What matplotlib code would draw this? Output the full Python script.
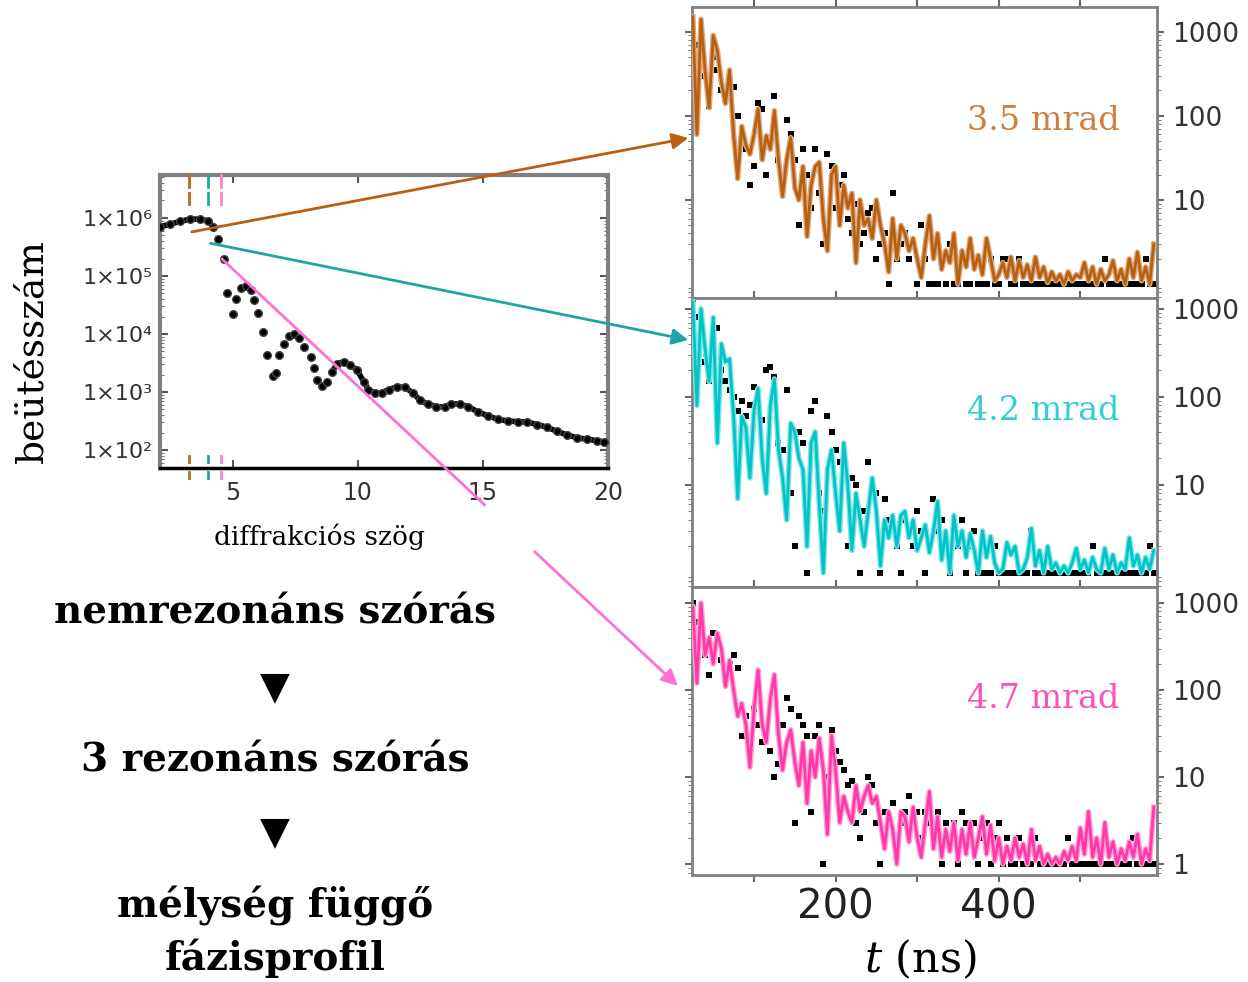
import numpy as np
import matplotlib.pyplot as plt
from matplotlib.patches import ConnectionPatch, FancyArrowPatch
from matplotlib.lines import Line2D
from matplotlib.ticker import LogLocator, NullFormatter

plt.rcParams['mathtext.fontset'] = 'dejavuserif'

# --- diffraction curve (left panel) ---
angle = [2.10, 2.50, 2.89, 3.29, 3.69, 4.02, 4.22, 4.42, 4.64, 4.77,
         5.01, 5.14, 5.34, 5.54, 5.74, 5.87, 6.00, 6.20, 6.36, 6.60,
         6.73, 6.86, 7.06, 7.26, 7.46, 7.66, 7.85, 8.12, 8.25, 8.38,
         8.58, 8.78, 8.98, 9.18, 9.44, 9.71, 9.97, 10.24, 10.43, 10.70,
         10.96, 11.23, 11.56, 11.89, 12.22, 12.48, 12.81, 13.14, 13.48, 13.74,
         14.07, 14.40, 14.80, 15.20, 15.59, 15.99, 16.39, 16.78, 17.18, 17.58,
         17.97, 18.37, 18.77, 19.16, 19.56, 19.83]
log_counts = [5.85, 5.89, 5.94, 5.98, 5.98, 5.95, 5.85, 5.64, 5.29, 4.70,
              4.34, 4.60, 4.79, 4.82, 4.76, 4.59, 4.36, 4.04, 3.64, 3.28,
              3.32, 3.63, 3.82, 3.97, 4.00, 3.93, 3.78, 3.61, 3.41, 3.21,
              3.11, 3.18, 3.35, 3.49, 3.52, 3.46, 3.38, 3.18, 3.04, 2.98,
              2.99, 3.04, 3.09, 3.08, 2.98, 2.86, 2.79, 2.75, 2.74, 2.80,
              2.79, 2.75, 2.66, 2.59, 2.53, 2.50, 2.49, 2.48, 2.44, 2.39,
              2.32, 2.26, 2.21, 2.19, 2.16, 2.14]
left_ytick_labels = ['1×10²', '1×10³', '1×10⁴', '1×10⁵', '1×10⁶']

# selected angles (marks) and where the arrows start
mark_angles = [3.25, 4.00, 4.55]
arrow_angle = [3.37, 4.12, 4.59]
arrow_count = [5.75e5, 3.66e5, 1.94e5]

# --- time spectra (right panels), channels every 5 ns from 25 to 590 ---
t_ns = np.arange(25, 595, 5)

fit_35 = [1500, 60, 1400, 340, 125, 900, 600, 250, 140, 350,
          60, 18, 75, 45, 35, 60, 120, 30, 58, 40,
          115, 30, 11, 30, 55, 14, 10, 25, 3.7, 15,
          25, 28, 6, 2.5, 20, 25, 5, 15, 8, 12,
          1.8, 10, 5, 6, 3.5, 10, 5, 3, 1.4, 6,
          2, 5, 4, 2.5, 3.5, 2, 1.2, 3, 6.5, 2,
          4, 1.5, 2.5, 1.8, 4, 1, 2.5, 1.6, 3.5, 1.5,
          2.2, 1.3, 3.5, 2, 1.1, 1.3, 1.8, 1.2, 2.1, 1.1,
          1.9, 1.2, 1.7, 1.1, 2.1, 1.2, 1.6, 1.05, 1.4, 1.1,
          1.3, 1.0, 1.4, 1.1, 1.3, 1.2, 1.8, 1.1, 1.6, 1.0,
          1.5, 1.1, 1.3, 1.9, 1.1, 1.5, 1.0, 2.0, 1.2, 2.4,
          1.1, 1.6, 1.0, 3.0]
meas_35 = [900, 700, 600, 300, 130, 500, 350, 200, 160, 250,
           220, 100, 60, 40, 15, 25, 140, 120, 20, 50,
           170, 30, 14, 90, 60, 30, 5, 40, 20, 8,
           40, 12, 3, 35, 25, 8, 15, 20, 6, 4,
           9, 3, 4, 7, 8, 2, 3, 4, 1, 12,
           2, 3, 4, 2, 3, 1, 5, 2, 1, 1,
           1, 2, 1, 3, 1, 1, 2, 1, 1, 2,
           1, 1, 1, 2, 1, 1, 2, 2, 1, 1,
           2, 1, 1, 1, 1, 1, 1, 1, 1, 1,
           1, 1, 1, 1, 1, 1, 1, 1, 1, 1,
           1, 2, 1, 1, 1, 1, 1, 1, 1, 1,
           1, 2, 1, 1]

fit_42 = [1200, 80, 1000, 350, 150, 800, 30, 400, 250, 270,
          60, 7, 60, 45, 12, 70, 125, 20, 8, 80,
          160, 25, 12, 4, 50, 40, 20, 15, 2, 30,
          40, 6, 1, 15, 25, 8, 3, 30, 10, 1.8,
          8, 4, 2, 5, 12, 5, 1.2, 4, 2.5, 4.5,
          2, 4.5, 5, 2.5, 4, 1.8, 2.5, 3.5, 1.7, 3,
          6.5, 1.4, 3, 1, 4.5, 2, 3, 1.5, 2.8, 1.8,
          1, 3, 1.5, 2.6, 1.3, 1.0, 1.1, 2.2, 1.6, 2.0,
          1.0, 1.1, 1.5, 3.2, 1.2, 1.8, 1.0, 2.0, 1.1, 1.3,
          1.0, 1.2, 1.0, 1.3, 1.9, 1.1, 1.4, 1.0, 1.5, 1.1,
          1.0, 1.9, 1.1, 1.6, 1.0, 1.3, 1.1, 2.5, 1.2, 1.6,
          1.0, 1.5, 1.1, 1.8]
meas_42 = [1300, 800, 500, 250, 150, 500, 600, 200, 150, 120,
           100, 70, 90, 60, 80, 130, 70, 55, 200, 220,
           170, 30, 25, 120, 8, 2, 40, 30, 1, 70,
           90, 8, 5, 60, 40, 25, 18, 20, 2, 12,
           10, 1, 5, 18, 10, 8, 1, 7, 4, 3,
           2, 1, 4, 3, 2, 5, 3, 1, 2, 7,
           3, 4, 2, 1, 3, 2, 4, 1, 2, 3,
           1, 1, 1, 1, 2, 1, 1, 1, 1, 1,
           1, 1, 1, 3, 1, 1, 1, 1, 1, 1,
           1, 1, 1, 1, 1, 1, 1, 1, 2, 1,
           1, 1, 1, 1, 1, 1, 1, 1, 1, 1,
           1, 1, 2, 1]

fit_47 = [900, 120, 1000, 250, 400, 200, 450, 300, 110, 220,
          100, 50, 70, 40, 13, 60, 170, 40, 25, 80,
          150, 30, 12, 25, 35, 15, 8, 25, 5, 20,
          10, 28, 12, 2.2, 30, 12, 3, 6, 4, 3,
          8, 4, 6, 8, 5, 6, 3, 1.5, 4, 2.5,
          1.0, 4, 3.5, 1.8, 4.5, 2, 1.2, 3, 6.8, 1.5,
          3.5, 1.2, 2.5, 1.4, 3, 1.1, 2.5, 1.3, 3.0, 1.2,
          2, 3.5, 1.3, 2.8, 1.1, 2, 1.0, 1.6, 1.1, 2,
          1.2, 1.7, 1.0, 2.5, 1.1, 1.6, 1.0, 1.3, 1.0, 1.2,
          1.0, 1.4, 1.1, 1.6, 1.1, 2.6, 1.3, 4, 1.2, 2,
          1.0, 3, 1.2, 1.8, 1.0, 1.5, 1.1, 1.8, 1.2, 2.2,
          1.0, 1.5, 1.1, 4.5]
meas_47 = [1000, 600, 450, 250, 150, 450, 400, 220, 150, 200,
           250, 180, 30, 50, 20, 60, 40, 25, 30, 20,
           10, 14, 40, 80, 60, 3, 50, 40, 30, 4,
           30, 40, 1, 10, 35, 20, 15, 12, 8, 9,
           3, 2, 4, 10, 8, 3, 1, 4, 3, 5,
           2, 3, 4, 6, 3, 4, 2, 4, 3, 2,
           4, 1, 3, 2, 3, 1, 4, 3, 2, 3,
           1, 2, 3, 1, 2, 3, 1, 2, 1, 1,
           2, 1, 1, 1, 2, 1, 1, 1, 1, 1,
           1, 1, 2, 1, 1, 1, 1, 1, 1, 1,
           1, 1, 1, 1, 1, 1, 1, 1, 2, 1,
           1, 1, 1, 1]

panel_labels = ['3.5 mrad', '4.2 mrad', '4.7 mrad']
line_col = ['#b8600f', '#00c4c8', '#ff3aa8']
halo_col = ['#dcaa80', '#80e4e4', '#ffa0d4']
text_col = ['#cc8040', '#30d0d0', '#ff50b4']
arrow_col = ['#b8600f', '#1ea6a6', '#ff70d0']
mark_col = ['#b86a20', '#20a4a4', '#ff80d4']

fig = plt.figure(figsize=(12.48, 9.82), dpi=100)

# ---------- left panel ----------
ax = fig.add_axes([0.1282, 0.5234, 0.359, 0.2984])
ax.set_yscale('log')
counts = 10 ** np.array(log_counts)
ang = np.array(angle)
smooth = (ang > 8.9) | (ang < 4.3)
ax.plot(np.where(smooth, ang, np.nan), counts, color='black', lw=4, zorder=3)
ax.plot(ang, counts, 'o', color='black', ms=5.5, mec='#444444', zorder=3)
ax.set_xlim(2.1, 20)
ax.set_ylim(49, 5.5e6)
ax.set_xticks([5, 10, 15, 20])
ax.set_xticklabels(['5', '10', '15', '20'], fontsize=17, color='#333333')
ax.set_yticks([1e2, 1e3, 1e4, 1e5, 1e6])
ax.set_yticklabels(left_ytick_labels, fontsize=16, color='#333333', family='DejaVu Sans')
ax.yaxis.set_minor_locator(LogLocator(subs=np.arange(2, 10)))
ax.yaxis.set_minor_formatter(NullFormatter())
ax.tick_params(which='both', direction='in', top=True, right=True, color='#555555')
ax.tick_params(which='major', length=6, width=1.5, pad=5)
ax.tick_params(axis='x', pad=9)
ax.tick_params(which='minor', length=3)
for s in ['left', 'top', 'right']:
    ax.spines[s].set_color('#808080')
    ax.spines[s].set_linewidth(3)
ax.spines['bottom'].set_color('black')
ax.spines['bottom'].set_linewidth(2.5)
for a, c in zip(mark_angles, mark_col):
    for y0, y1 in [(0.96, 1.0), (0.90, 0.94), (0.02, 0.04), (-0.035, -0.013)]:
        ax.plot([a, a], [y0, y1], color=c, lw=2, transform=ax.get_xaxis_transform(),
                clip_on=False, zorder=4)
ax.set_ylabel('beütésszám', family='DejaVu Serif', fontsize=27)
ax.yaxis.set_label_coords(-0.245, 0.40)
fig.text(320 / 1248, 1 - 537 / 982, 'diffrakciós szög', family='DejaVu Serif',
         fontsize=19, ha='center', va='center')

# ---------- right panels ----------
rects = [[0.5545, 0.6968, 0.3726, 0.2957],
         [0.5545, 0.4022, 0.3726, 0.2943],
         [0.5545, 0.1090, 0.3726, 0.2933]]
ylims = [(0.69, 1940), (0.69, 1330), (0.75, 1530)]
fits = [fit_35, fit_42, fit_47]
meas = [meas_35, meas_42, meas_47]
right_axes = []
for i in range(3):
    a = fig.add_axes(rects[i])
    a.set_yscale('log')
    a.plot(t_ns, meas[i], 's', color='black', ms=4.3, mew=0, zorder=2)
    a.plot(t_ns, fits[i], color=halo_col[i], lw=4, zorder=3)
    a.plot(t_ns, fits[i], color=line_col[i], lw=2, zorder=4)
    a.set_xlim(24, 594)
    a.set_ylim(*ylims[i])
    a.set_xticks([100, 200, 300, 400, 500])
    if i == 2:
        a.set_xticklabels(['', '200', '', '400', ''], fontsize=29, color='#222222')
        a.set_yticks([1, 10, 100, 1000])
        a.set_yticklabels(['1', '10', '100', '1000'], fontsize=19, color='#333333')
    else:
        a.set_xticklabels([])
        a.set_yticks([10, 100, 1000])
        a.set_yticklabels(['10', '100', '1000'], fontsize=19, color='#333333')
    a.yaxis.set_minor_locator(LogLocator(subs=np.arange(2, 10)))
    a.yaxis.set_minor_formatter(NullFormatter())
    a.tick_params(which='both', direction='out', top=True, right=True, left=True,
                  labelleft=False, labelright=True, color='#666666')
    a.tick_params(which='major', length=5, width=1.5, pad=6)
    a.tick_params(axis='x', pad=4)
    a.tick_params(which='minor', length=3)
    for s in a.spines.values():
        s.set_color('#808080')
        s.set_linewidth(2)
    a.text(0.755, 0.61, panel_labels[i], transform=a.transAxes, ha='center', va='center',
           family='DejaVu Serif', fontsize=24, color=text_col[i])
    right_axes.append(a)

fig.text(920 / 1248, 1 - 960 / 982, r'$t$ (ns)', family='DejaVu Serif',
         fontsize=31, ha='center', va='center')

# ---------- arrows from the diffraction curve to the spectra ----------
ends = [(-0.008, 0.55), (-0.008, 0.855), (-0.026, 0.65)]
for i in range(2):
    con = ConnectionPatch(xyA=(arrow_angle[i], arrow_count[i]), coordsA=ax.transData,
                          xyB=ends[i], coordsB=right_axes[i].transAxes,
                          arrowstyle='-|>', color=arrow_col[i], lw=2,
                          mutation_scale=24, zorder=10)
    fig.add_artist(con)

inv = fig.transFigure.inverted()
p0 = np.array(inv.transform(ax.transData.transform((arrow_angle[2], arrow_count[2]))))
p1 = np.array(inv.transform(right_axes[2].transAxes.transform(ends[2])))
q0 = p0 + 0.573 * (p1 - p0)
q1 = p0 + 0.678 * (p1 - p0)
fig.add_artist(Line2D([p0[0], q0[0]], [p0[1], q0[1]], color=arrow_col[2], lw=2,
                      transform=fig.transFigure, zorder=10))
fig.add_artist(FancyArrowPatch(q1, p1, arrowstyle='-|>', color=arrow_col[2], lw=2,
                               mutation_scale=24, transform=fig.transFigure, zorder=10))

# ---------- workflow text ----------
steps = [('nemrezonáns szórás', 613), ('▼', 687), ('3 rezonáns szórás', 760),
         ('▼', 832), ('mélység függő', 906), ('fázisprofil', 958)]
for s, y in steps:
    if s == '▼':
        fig.text(275 / 1248, 1 - y / 982, s, family='DejaVu Sans', fontsize=28,
                 ha='center', va='center')
    else:
        fig.text(275 / 1248, 1 - y / 982, s, family='DejaVu Serif', weight='bold',
                 fontsize=28, ha='center', va='center')

fig.savefig('out.png', dpi=100)
